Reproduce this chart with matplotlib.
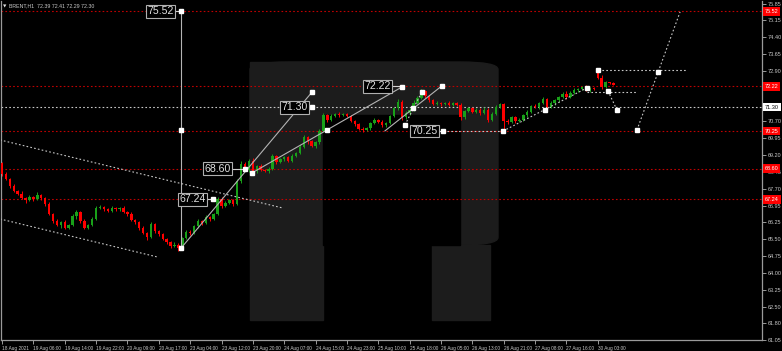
import matplotlib.pyplot as plt
import matplotlib.transforms as mtransforms
from matplotlib.patches import Rectangle, FancyBboxPatch

# H1 candles, one close per bar (bar 0 = 18 Aug 2021)
closes = [
    68.35, 68.15, 67.85, 67.60, 67.50, 67.30, 67.20, 67.35, 67.25, 67.45,
    67.30, 67.05, 66.60, 66.30, 66.10, 66.25, 66.00, 66.10, 66.50, 66.70,
    66.30, 66.00, 66.10, 66.40, 66.85, 66.90, 66.80, 66.75, 66.85, 66.80,
    66.85, 66.70, 66.60, 66.35, 66.25, 66.00, 65.75, 65.60, 66.15, 65.85,
    65.70, 65.50, 65.35, 65.20, 65.25, 65.10, 65.55, 65.80, 65.75, 66.05,
    66.30, 66.20, 66.45, 66.40, 66.60, 67.25, 66.95, 67.10, 67.20, 67.05,
    68.05, 68.80, 68.55, 68.95, 68.50, 68.70, 68.55, 68.50, 68.60, 69.15,
    68.90, 69.00, 69.10, 68.95, 69.15, 69.30, 69.55, 70.00, 69.80, 69.60,
    69.75, 70.25, 70.95, 70.75, 70.90, 71.00, 70.95, 71.00, 70.90, 70.70,
    70.55, 70.35, 70.30, 70.40, 70.60, 70.75, 70.65, 70.50, 70.60, 70.90,
    71.25, 71.55, 70.85, 71.05, 71.20, 71.50, 71.70, 72.00, 71.80, 71.60,
    71.45, 71.50, 71.45, 71.50, 71.42, 71.48, 71.40, 70.85, 71.15, 71.25,
    71.10, 71.20, 71.05, 71.20, 70.75, 71.00, 71.30, 71.45, 70.70, 70.65,
    70.85, 70.70, 70.75, 70.95, 71.10, 71.35, 71.30, 71.50, 71.65, 71.30,
    71.50, 71.60, 71.75, 71.90, 71.75, 71.95, 72.05, 72.10, 72.20, 72.05,
    72.15, 72.12, 72.60, 72.19, 72.41, 72.39, 72.30,
]
first_open = 68.85
gap_opens = {152: 72.85}  # weekend gap on 30 Aug

wick_up = [
    0.05, 0.10, 0.05, 0.08, 0.05, 0.10, 0.05, 0.08, 0.05, 0.10,
    0.05, 0.05, 0.08, 0.05, 0.10, 0.05, 0.08, 0.05, 0.10, 0.08,
    0.05, 0.10, 0.05, 0.05, 0.10, 0.08, 0.05, 0.05, 0.08, 0.05,
    0.05, 0.08, 0.05, 0.10, 0.05, 0.05, 0.08, 0.05, 0.10, 0.05,
    0.05, 0.08, 0.05, 0.05, 0.10, 0.05, 0.05, 0.08, 0.10, 0.05,
    0.08, 0.05, 0.10, 0.05, 0.05, 0.08, 0.10, 0.05, 0.08, 0.05,
    0.10, 0.15, 0.10, 0.08, 0.10, 0.05, 0.08, 0.05, 0.05, 0.10,
    0.05, 0.08, 0.05, 0.05, 0.08, 0.05, 0.10, 0.08, 0.05, 0.08,
    0.05, 0.10, 0.08, 0.05, 0.10, 0.05, 0.08, 0.05, 0.05, 0.08,
    0.05, 0.05, 0.08, 0.05, 0.05, 0.08, 0.05, 0.10, 0.05, 0.08,
    0.05, 0.10, 0.05, 0.08, 0.05, 0.10, 0.08, 0.10, 0.08, 0.05,
    0.05, 0.08, 0.05, 0.05, 0.08, 0.05, 0.05, 0.08, 0.05, 0.05,
    0.08, 0.05, 0.05, 0.10, 0.05, 0.08, 0.10, 0.05, 0.05, 0.08,
    0.05, 0.05, 0.08, 0.05, 0.10, 0.05, 0.08, 0.05, 0.10, 0.05,
    0.08, 0.05, 0.05, 0.08, 0.10, 0.05, 0.08, 0.05, 0.05, 0.10,
    0.05, 0.05, 0.05, 0.10, 0.05, 0.02, 0.02,
]
wick_dn = [
    0.08, 0.05, 0.10, 0.05, 0.08, 0.05, 0.10, 0.05, 0.08, 0.05,
    0.08, 0.10, 0.05, 0.08, 0.05, 0.10, 0.05, 0.08, 0.05, 0.10,
    0.08, 0.05, 0.08, 0.05, 0.05, 0.05, 0.08, 0.05, 0.05, 0.08,
    0.05, 0.05, 0.08, 0.05, 0.08, 0.10, 0.05, 0.15, 0.05, 0.08,
    0.05, 0.05, 0.08, 0.10, 0.05, 0.12, 0.05, 0.05, 0.08, 0.05,
    0.05, 0.08, 0.05, 0.10, 0.05, 0.05, 0.08, 0.05, 0.05, 0.10,
    0.05, 0.08, 0.05, 0.10, 0.05, 0.08, 0.05, 0.05, 0.08, 0.05,
    0.10, 0.05, 0.05, 0.08, 0.05, 0.05, 0.08, 0.05, 0.10, 0.05,
    0.08, 0.05, 0.05, 0.10, 0.05, 0.05, 0.08, 0.05, 0.05, 0.05,
    0.08, 0.05, 0.10, 0.05, 0.08, 0.05, 0.05, 0.08, 0.05, 0.05,
    0.05, 0.08, 0.10, 0.05, 0.08, 0.05, 0.05, 0.05, 0.08, 0.05,
    0.05, 0.05, 0.08, 0.05, 0.05, 0.08, 0.05, 0.10, 0.05, 0.08,
    0.05, 0.05, 0.08, 0.05, 0.10, 0.05, 0.05, 0.05, 0.50, 0.08,
    0.05, 0.08, 0.05, 0.05, 0.08, 0.05, 0.05, 0.08, 0.05, 0.05,
    0.05, 0.08, 0.05, 0.05, 0.08, 0.05, 0.05, 0.08, 0.05, 0.05,
    0.08, 0.05, 0.05, 0.08, 0.05, 0.05, 0.01,
]

tick_bars = list(range(0, 160, 8))
tick_labels = [
    "18 Aug 2021", "19 Aug 06:00", "19 Aug 14:00", "19 Aug 22:00",
    "20 Aug 09:00", "20 Aug 17:00", "23 Aug 04:00", "23 Aug 12:00",
    "23 Aug 20:00", "24 Aug 07:00", "24 Aug 15:00", "24 Aug 23:00",
    "25 Aug 10:00", "25 Aug 18:00", "26 Aug 05:00", "26 Aug 13:00",
    "26 Aug 21:00", "27 Aug 08:00", "27 Aug 16:00", "30 Aug 03:00",
]
price_ticks = [75.85, 75.15, 74.40, 73.65, 72.90, 70.70, 69.95, 69.20,
               68.45, 67.70, 66.95, 66.25, 65.50, 64.75, 64.00, 63.25,
               62.50, 61.80, 61.05]

red_levels = [75.52, 72.22, 70.25, 68.60, 67.24]
white_level = 71.30

# analyst drawings: (bar, price) end points
solid_lines = [
    [(45.7, 65.10), (79.1, 71.97)],
    [(63.8, 68.41), (102.0, 72.19)],
    [(97.7, 70.26), (112.2, 72.24)],
    [(45.7, 75.52), (45.7, 65.10)],
]
dotted_lines = [
    [(-0.5, 69.86), (71.7, 66.86)],
    [(-0.5, 66.38), (39.8, 64.70)],
    [(102.8, 70.52), (107.1, 71.97)],
    [(112.5, 70.25), (127.8, 70.25)],
    [(127.8, 70.25), (149.2, 72.15)],
    [(149.2, 71.97), (162.0, 71.97)],
    [(154.6, 72.02), (156.9, 71.18)],
    [(152.0, 72.94), (174.7, 72.94)],
    [(162.0, 70.30), (173.0, 75.50)],
]
markers = [(45.7, 75.52), (45.7, 70.31), (45.7, 65.10), (79.1, 71.97),
           (79.1, 71.30), (82.9, 70.30), (102.0, 72.19), (63.8, 68.41),
           (62.0, 68.60), (53.8, 67.24), (104.8, 71.27), (112.2, 72.24),
           (102.8, 70.52), (107.1, 71.97), (112.5, 70.25), (127.8, 70.25),
           (138.5, 71.18), (149.2, 72.15), (154.6, 72.02), (156.9, 71.18),
           (152.0, 72.94), (162.0, 70.30), (167.3, 72.85)]
# label text, box right edge bar, marker bar, price
price_boxes = [
    ("75.52", 44.4, 45.7, 75.52),
    ("71.30", 78.6, 79.1, 71.30),
    ("72.22", 99.7, 102.0, 72.22),
    ("68.60", 58.9, 62.0, 68.60),
    ("67.24", 52.6, 53.8, 67.24),
    ("70.25", 111.7, 112.5, 70.25),
]
axis_marks = [("75.52", 75.52, "red"), ("72.22", 72.22, "red"),
              ("71.30", 71.30, "white"), ("70.25", 70.25, "red"),
              ("68.60", 68.60, "red"), ("67.24", 67.24, "red")]

W, H = 782, 351
small = ["Liberation Sans Narrow", "Liberation Sans", "DejaVu Sans"]

fig = plt.figure(figsize=(W / 100, H / 100), dpi=100, facecolor="black")
ax = fig.add_axes([1 / W, 11 / H, 761 / W, 339 / H], facecolor="black")
ax.set_xlim(-0.26, 193.9)
ax.set_ylim(61.05, 75.98)


# RoboForex watermark, drawn in axes fraction
def px(x, y):
    return ((x - 1) / 761, (340 - y) / 339)


logo = "#1c1c1c"
x0, y0 = px(250, 320)
x1, y1 = px(323, 62)
ax.add_patch(Rectangle((x0, y0), x1 - x0, y1 - y0, color=logo, transform=ax.transAxes, zorder=0))
bx0, by0 = px(250, 245)
bx1, by1 = px(498, 62)
ax.add_patch(FancyBboxPatch((bx0, by0), bx1 - bx0, by1 - by0,
                            boxstyle="round,pad=0,rounding_size=0.05",
                            mutation_aspect=339 / 761,
                            color=logo, transform=ax.transAxes, zorder=0))
hx0, hy0 = px(323, 245)
hx1, hy1 = px(460, 115)
ax.add_patch(Rectangle((hx0, hy0), hx1 - hx0, hy1 - hy0, color="black", transform=ax.transAxes, zorder=0.1))
lx0, ly0 = px(432, 320)
lx1, ly1 = px(490, 245)
ax.add_patch(Rectangle((lx0, ly0), lx1 - lx0, ly1 - ly0, color=logo, transform=ax.transAxes, zorder=0))

# level lines
for lv in red_levels:
    ax.axhline(lv, color="#c00000", lw=0.8, ls=(0, (1.5, 2)), zorder=1)
ax.axhline(white_level, color="#c8c8c8", lw=0.8, ls=(0, (1.5, 2)), zorder=1)

# candles
prev = first_open
for i, c in enumerate(closes):
    o = gap_opens.get(i, prev)
    col = "#19a019" if c >= o else "#ff0000"
    hi = max(o, c) + wick_up[i]
    lo = min(o, c) - wick_dn[i]
    ax.vlines(i, lo, hi, color=col, lw=0.7, zorder=2)
    body = max(abs(c - o), 0.03)
    ax.bar(i, body, bottom=min(o, c), width=0.62, color=col, lw=0, zorder=3)
    prev = c

# drawings
for seg in solid_lines:
    xs, ys = zip(*seg)
    ax.plot(xs, ys, color="#b4b4b4", lw=0.8, zorder=4)
for seg in dotted_lines:
    xs, ys = zip(*seg)
    ax.plot(xs, ys, color="#c8c8c8", lw=0.8, ls=(0, (1.5, 2)), zorder=4)
mx, my = zip(*markers)
ax.plot(mx, my, "s", ms=2.2, color="white", mec="white", zorder=6)

for txt, xr, xm, p in price_boxes:
    ax.plot([xr, xm], [p, p], color="#d0d0d0", lw=0.8, zorder=5)
    ax.text(xr - 0.6, p, txt, ha="right", va="center", color="#e0e0e0",
            fontsize=7.6, family="Liberation Sans", zorder=7,
            bbox=dict(boxstyle="square,pad=0.12", fc="black", ec="#b0b0b0", lw=0.8))

# axes styling
ax.spines["top"].set_visible(False)
for s in ["left", "right", "bottom"]:
    ax.spines[s].set_color("#9a9a9a")
    ax.spines[s].set_linewidth(0.9)

ax.yaxis.tick_right()
ax.set_yticks(price_ticks)
ax.set_yticklabels([f"{v:.2f}" for v in price_ticks], family="Liberation Sans", fontsize=4.0)
ax.set_xticks(tick_bars)
ax.set_xticklabels(tick_labels, family=small, fontsize=3.4)
for lab in ax.get_xticklabels():
    lab.set_ha("left")
ax.tick_params(axis="both", colors="#9a9a9a", labelcolor="#c8c8c8",
               length=3, width=0.7, pad=1)

trans = mtransforms.blended_transform_factory(ax.transAxes, ax.transData)
for txt, p, kind in axis_marks:
    fc, tc = ("#ff0000", "#ffffff") if kind == "red" else ("#ffffff", "#000000")
    ax.text(1.004, p, txt, transform=trans, ha="left", va="center",
            fontsize=4.0, family="Liberation Sans", color=tc, zorder=8, clip_on=False,
            bbox=dict(boxstyle="square,pad=0.3", fc=fc, ec="none"))

fig.text(3 / W, 1 - 6 / H, "\u25bc", color="#e0e0e0", fontsize=3.2, va="center")
fig.text(9 / W, 1 - 6 / H, "BRENT,H1  72.39 72.41 72.29 72.30",
         color="#c8c8c8", fontsize=3.8, family="Liberation Sans", va="center")

fig.savefig("out.png", dpi=100, facecolor="black")
